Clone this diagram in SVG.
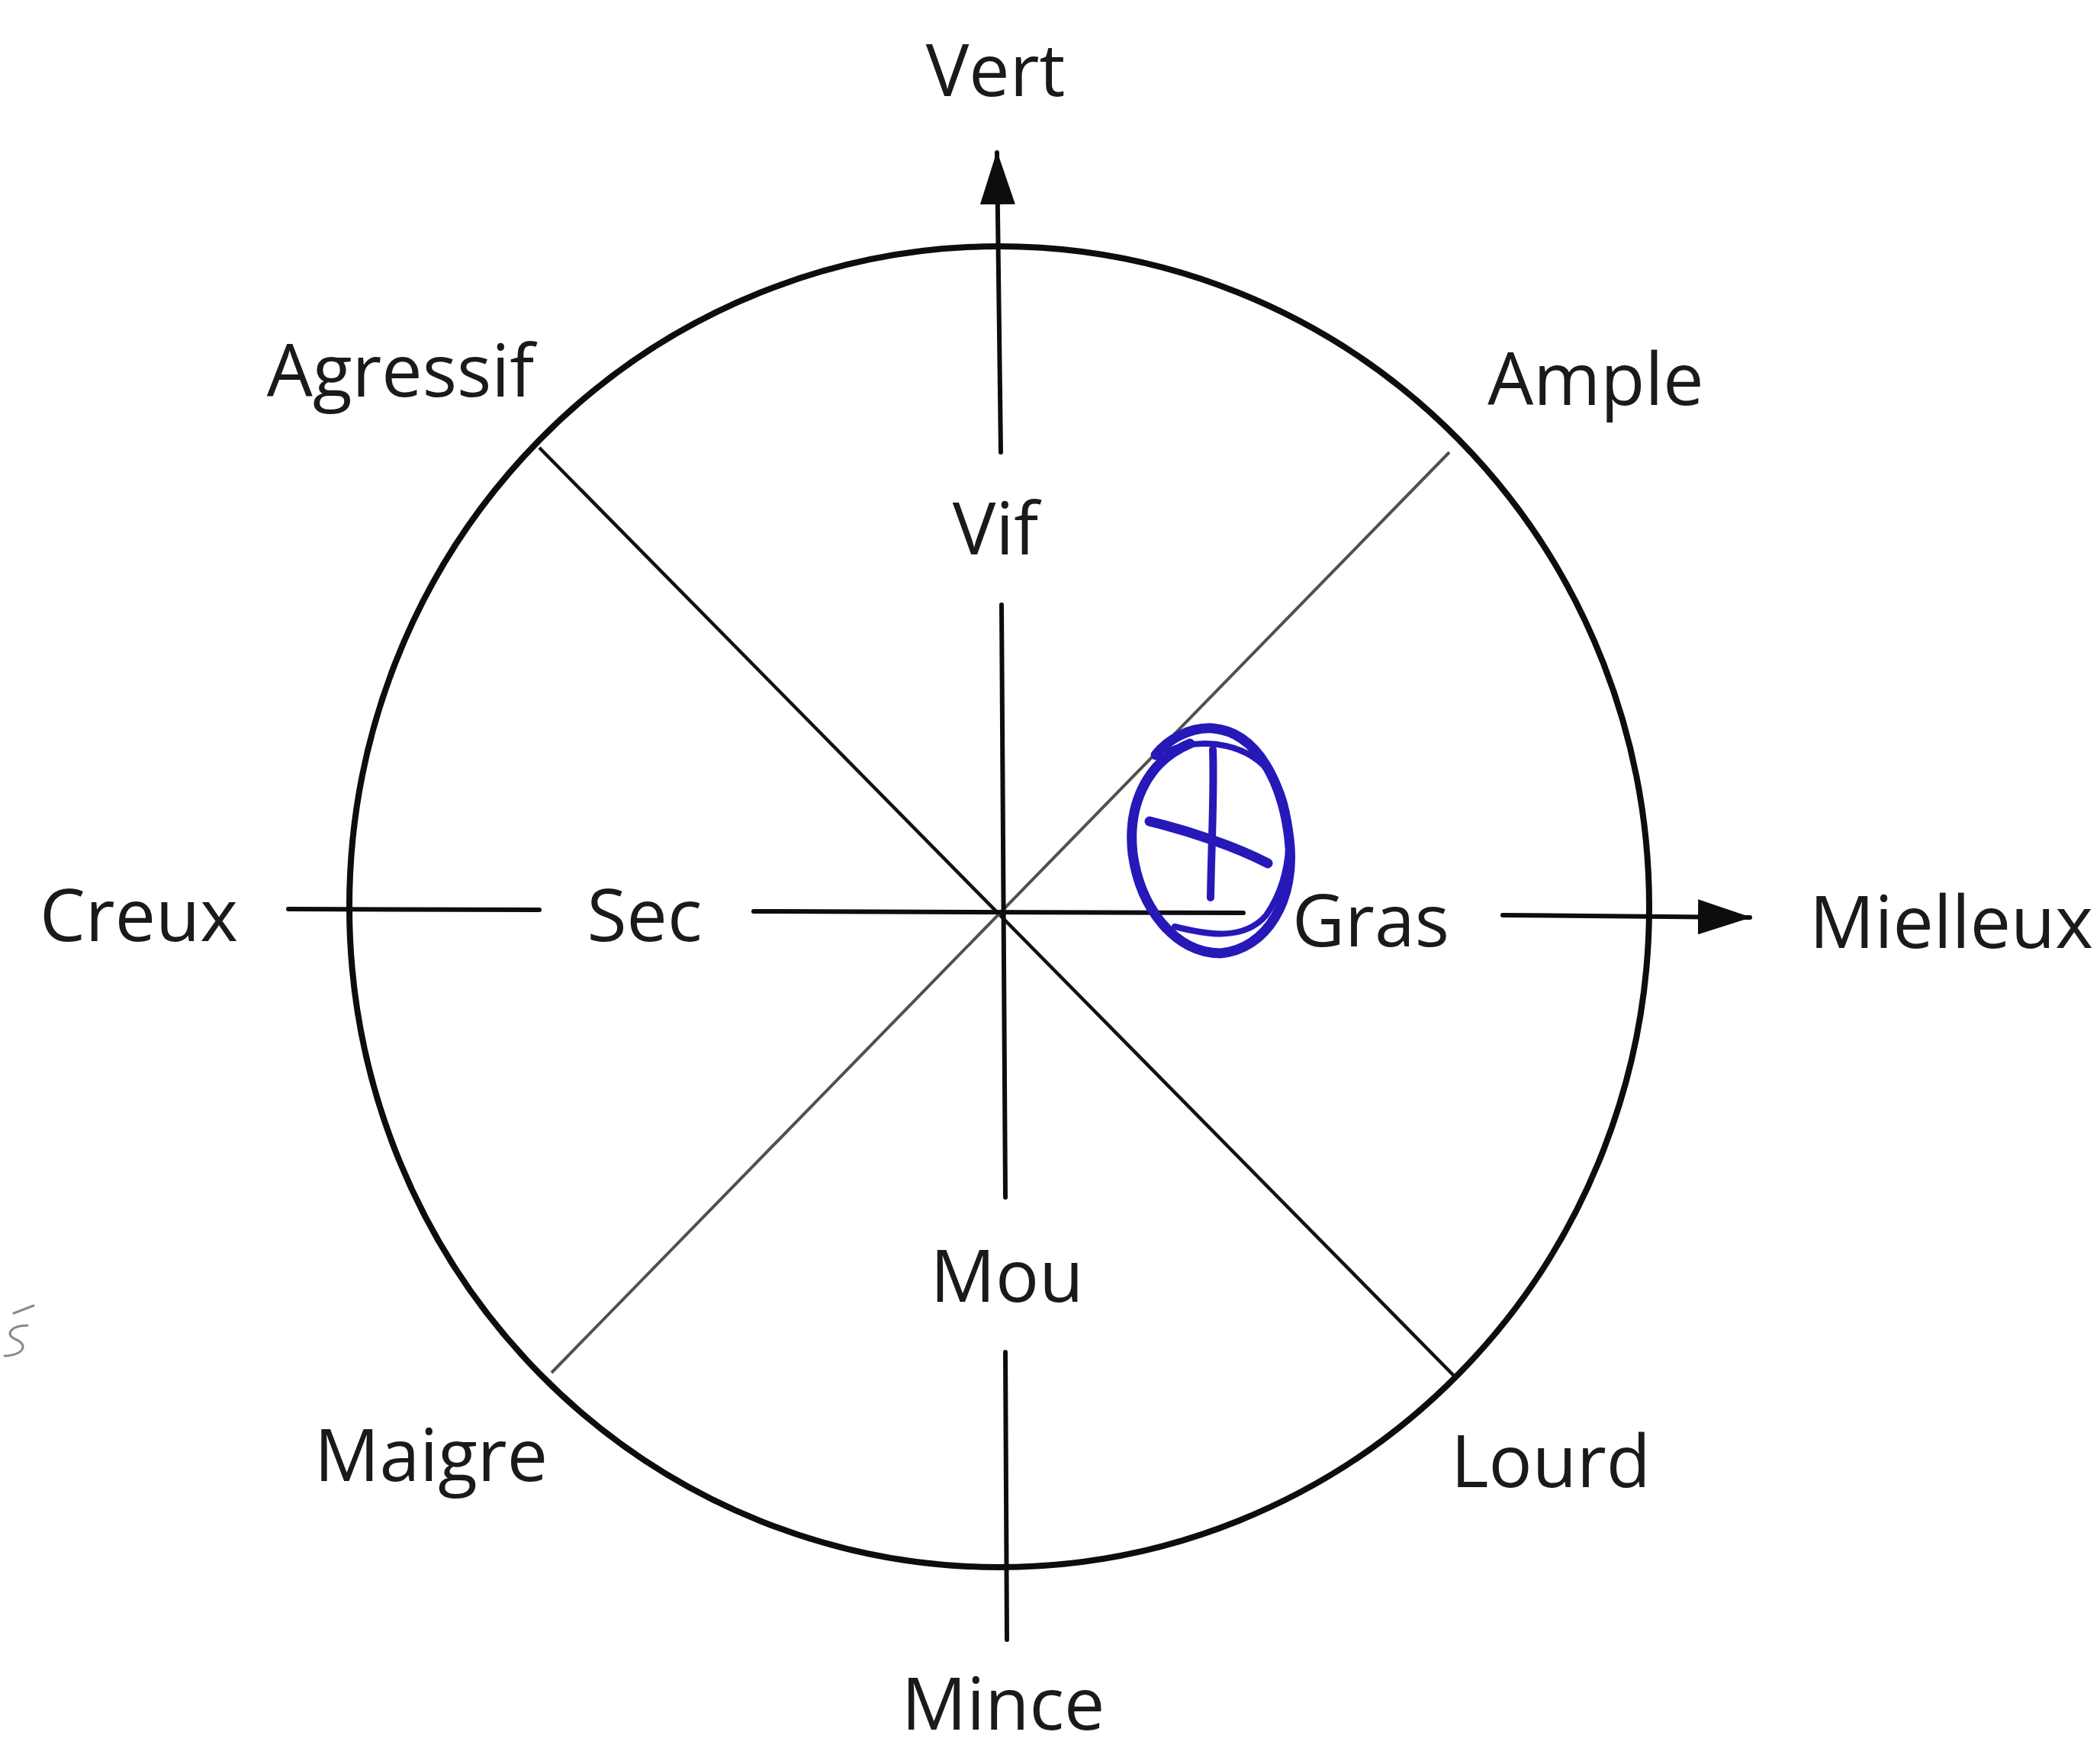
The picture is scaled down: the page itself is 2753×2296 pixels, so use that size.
<svg xmlns="http://www.w3.org/2000/svg" width="2753" height="2296" viewBox="0 0 2753 2296">
<style>
.lbl{font-family:"Open Sans","Noto Sans","Liberation Sans",sans-serif;font-size:95px;fill:#1a1a1a;text-anchor:middle}
.axis{stroke:#0d0d0d;stroke-width:6;fill:none;stroke-linecap:round}
.diag{stroke:#121212;stroke-width:4.5;fill:none}
.diag2{stroke:#505050;stroke-width:4;fill:none}
.ink{stroke:#2619b8;fill:none;stroke-linecap:round;stroke-linejoin:round}
</style>
<defs>
<marker id="arr" markerUnits="userSpaceOnUse" markerWidth="70" markerHeight="46" refX="68" refY="23" orient="auto">
<path d="M0,0 L70,23 L0,46 Z" fill="#0d0d0d"/>
</marker>
</defs>
<rect width="2753" height="2296" fill="#fff"/>
<g id="wheel">
<ellipse cx="1310" cy="1189" rx="852" ry="866" fill="none" stroke="#0d0d0d" stroke-width="8"/>
</g>
<g id="connectors">
<line class="diag" x1="707" y1="587" x2="1910" y2="1808"/>
<line class="diag2" x1="1900" y1="593" x2="723" y2="1800"/>
<line class="axis" x1="1312" y1="593" x2="1307" y2="200" marker-end="url(#arr)"/>
<line class="axis" x1="1313" y1="793" x2="1318" y2="1570"/>
<line class="axis" x1="1318" y1="1773" x2="1320" y2="2150"/>
<line class="axis" x1="378" y1="1192" x2="707" y2="1193"/>
<line class="axis" x1="988" y1="1195" x2="1630" y2="1197"/>
<line class="axis" x1="1970" y1="1200" x2="2294" y2="1203" marker-end="url(#arr)"/>
</g>
<g id="n-vert"><text class="lbl" x="1305" y="126">Vert</text></g>
<g id="n-vif"><text class="lbl" x="1305" y="727">Vif</text></g>
<g id="n-mou"><text class="lbl" x="1320" y="1707">Mou</text></g>
<g id="n-mince"><text class="lbl" x="1315" y="2268">Mince</text></g>
<g id="n-agressif"><text class="lbl" x="525" y="520">Agressif</text></g>
<g id="n-ample"><text class="lbl" x="2092" y="531">Ample</text></g>
<g id="n-maigre"><text class="lbl" x="565" y="1942">Maigre</text></g>
<g id="n-lourd"><text class="lbl" x="2033" y="1950">Lourd</text></g>
<g id="n-creux"><text class="lbl" x="182" y="1234">Creux</text></g>
<g id="n-sec"><text class="lbl" x="845" y="1234">Sec</text></g>
<g id="n-gras"><text class="lbl" x="1797" y="1241">Gras</text></g>
<g id="n-mielleux"><text class="lbl" x="2558" y="1243">Mielleux</text></g>
<g id="mark">
<path class="ink" stroke-width="13" d="M1560,975 C1500,1000 1478,1060 1485,1120 C1495,1190 1540,1250 1600,1250 C1660,1245 1700,1180 1690,1100 C1682,1030 1650,960 1590,955 C1560,953 1530,970 1515,990"/>
<path class="ink" stroke-width="8" d="M1530,985 C1580,965 1640,975 1670,1020 C1700,1070 1695,1150 1660,1200 C1630,1235 1580,1225 1540,1215"/>
<path class="ink" stroke-width="10" d="M1590,983 C1592,1040 1588,1110 1587,1177"/>
<path class="ink" stroke-width="13" d="M1507,1077 C1560,1090 1620,1110 1662,1132"/>
</g>
<g id="scribble">
<path d="M18,1722 L44,1712 M36,1738 C14,1738 6,1750 20,1756 C36,1762 34,1776 6,1778" fill="none" stroke="#8a8a8a" stroke-width="3" stroke-linecap="round"/>
</g>
</svg>
